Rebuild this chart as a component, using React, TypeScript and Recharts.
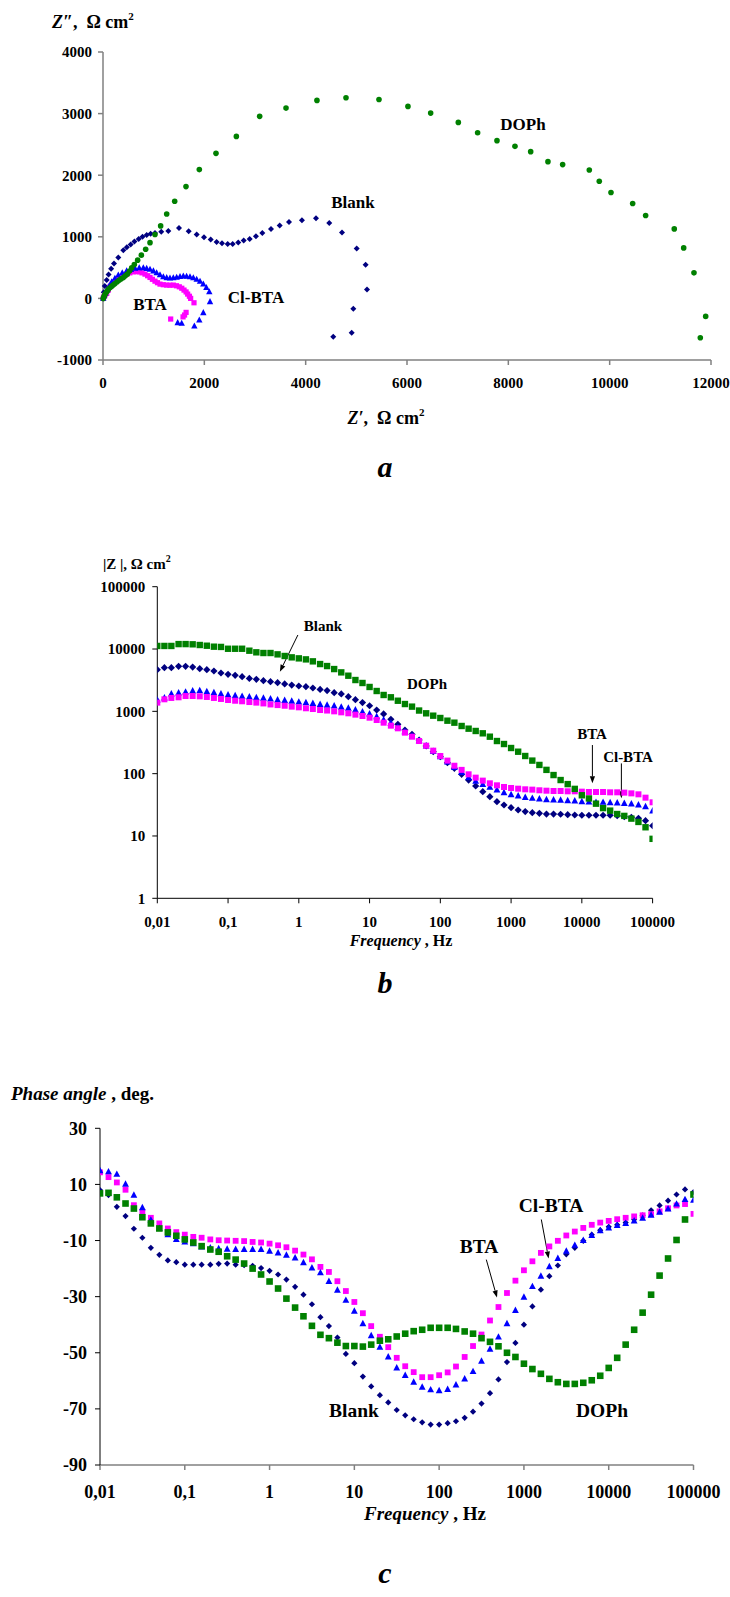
import React from 'react';
import { ScatterChart, Scatter, XAxis, YAxis, ReferenceLine } from 'recharts';

const FONT = "'Times New Roman', 'Liberation Serif', serif";

const NAVY = '#000080';
const MAGENTA = '#FF00FF';
const BLUE = '#0000FF';
const GREEN = '#008000';

// ---- Nyquist plot (Z' vs Z''), Ohm cm2 ----
const blankRe = [5, 15, 35, 73, 110, 160, 217, 302, 401, 470, 547, 620, 704, 780, 862, 940, 1026, 1150, 1289, 1500, 1691, 1849, 1993, 2125, 2243, 2349, 2461, 2560, 2670, 2777, 2895, 3019, 3144, 3316, 3487, 3671, 3927, 4204, 4466, 4717, 5007, 5184, 5210, 4940, 4908, 4545];
const blankIm = [0, 100, 200, 297, 390, 480, 567, 664, 783, 830, 875, 925, 966, 1000, 1031, 1050, 1063, 1080, 1096, 1144, 1091, 1037, 994, 956, 917, 896, 885, 885, 908, 940, 966, 1010, 1063, 1128, 1183, 1242, 1269, 1301, 1225, 1070, 810, 545, 146, -169, -558, -622];

const btaRe = [5, 20, 40, 73, 105, 138, 175, 217, 275, 336, 400, 467, 530, 598, 660, 716, 770, 829, 880, 928, 975, 1026, 1075, 1125, 1190, 1257, 1320, 1388, 1450, 1506, 1555, 1599, 1640, 1671, 1705, 1730, 1796, 1640, 1610, 1580, 1336];
const btaIm = [0, 30, 55, 81, 135, 188, 230, 269, 310, 340, 370, 394, 415, 431, 435, 431, 415, 394, 368, 340, 310, 280, 255, 232, 222, 216, 214, 216, 205, 188, 165, 135, 105, 70, 35, 0, -71, -227, -270, -300, -335];

const clbtaRe = [5, 20, 45, 73, 120, 172, 235, 302, 380, 467, 550, 632, 715, 796, 862, 928, 995, 1059, 1125, 1191, 1257, 1322, 1388, 1454, 1520, 1585, 1650, 1717, 1783, 1849, 1915, 1980, 2040, 2098, 2112, 1980, 1901, 1803, 1553, 1474];
const clbtaIm = [0, 40, 85, 135, 200, 269, 325, 378, 415, 447, 468, 486, 494, 496, 485, 470, 445, 415, 382, 350, 335, 329, 332, 340, 352, 361, 358, 350, 332, 308, 275, 232, 175, 107, -55, -233, -352, -449, -405, -395];

const dophRe = [5, 15, 26, 40, 59, 80, 105, 135, 172, 205, 237, 280, 322, 360, 401, 440, 480, 523, 566, 618, 684, 757, 842, 928, 1026, 1138, 1257, 1415, 1638, 1901, 2230, 2632, 3092, 3612, 4223, 4796, 5447, 6019, 6467, 7013, 7394, 7776, 8131, 8441, 8782, 9072, 9598, 9795, 10026, 10454, 10710, 11275, 11461, 11664, 11895, 11789];
const dophIm = [0, 20, 42, 65, 91, 118, 146, 172, 199, 222, 243, 270, 297, 318, 340, 367, 394, 445, 496, 551, 621, 702, 799, 905, 1037, 1177, 1371, 1577, 1815, 2091, 2355, 2630, 2955, 3089, 3214, 3257, 3230, 3117, 3008, 2857, 2690, 2561, 2468, 2382, 2220, 2172, 2085, 1901, 1718, 1540, 1345, 1128, 820, 415, -292, -638];

const reTicks = [0, 2000, 4000, 6000, 8000, 10000, 12000];
const imTicks = [-1000, 0, 1000, 2000, 3000, 4000];

// ---- Bode plots, shared frequency grid (Hz) ----
const freq = [
  0.01, 0.0126, 0.0158, 0.02, 0.0251, 0.0316, 0.0398, 0.0501, 0.0631, 0.0794,
  0.1, 0.126, 0.158, 0.2, 0.251, 0.316, 0.398, 0.501, 0.631, 0.794,
  1, 1.26, 1.58, 2, 2.51, 3.16, 3.98, 5.01, 6.31, 7.94,
  10, 12.6, 15.8, 20, 25.1, 31.6, 39.8, 50.1, 63.1, 79.4,
  100, 126, 158, 200, 251, 316, 398, 501, 631, 794,
  1000, 1259, 1585, 1995, 2512, 3162, 3981, 5012, 6310, 7943,
  10000, 12589, 15849, 19953, 25119, 31623, 39811, 50119, 63096, 79433,
  100000,
];

// |Z|, Ohm cm2
const blankMod = [
  4660, 5020, 5020, 5270, 5270, 5140, 4830, 4660, 4440, 4120,
  3920, 3780, 3600, 3380, 3260, 3100, 2990, 2880, 2750, 2640,
  2550, 2490, 2370, 2250, 2150, 1990, 1900, 1720, 1540, 1380,
  1230, 1050, 910, 745, 618, 502, 428, 347, 278, 225,
  187, 150, 122, 97.6, 79, 63.4, 51.4, 42.7, 35.5, 31.4,
  28.5, 26.1, 24.6, 23.7, 23.1, 22.5, 22.5, 22.3, 22.0, 21.7,
  21.5, 21.5, 21.5, 21.5, 21.5, 21.2, 20.4, 19.9, 19.2, 17.6,
  14.6,
];
const btaMod = [
  1380, 1560, 1640, 1680, 1760, 1760, 1740, 1700, 1640, 1580,
  1520, 1480, 1450, 1410, 1380, 1340, 1290, 1260, 1230, 1190,
  1160, 1120, 1090, 1050, 1030, 1000, 964, 930, 885, 842,
  791, 726, 658, 589, 534, 455, 392, 334, 281, 234,
  192, 162, 134, 115, 97.6, 86.3, 77.3, 70, 65, 61.1,
  58.9, 57.4, 56.1, 55.4, 54.1, 53.3, 52.7, 52.7, 52.1, 52.1,
  51.4, 50.8, 50.8, 50.8, 50.2, 50.2, 49.6, 48.3, 46.6, 41.2,
  34.7,
];
const clbtaMod = [
  1520, 1640, 1900, 1970, 2040, 2120, 2150, 2070, 1990, 1900,
  1830, 1780, 1740, 1700, 1660, 1620, 1580, 1520, 1500, 1450,
  1410, 1380, 1340, 1290, 1260, 1220, 1170, 1120, 1050, 975,
  906, 821, 726, 646, 553, 472, 402, 338, 278, 228,
  187, 154, 126, 105, 87, 76, 67.4, 60.4, 54.7, 49.6,
  46.0, 43.8, 41.7, 40.2, 39.2, 38.3, 37.8, 37.4, 36.9, 36.4,
  35.5, 35.1, 34.7, 34.7, 34.3, 33.8, 33.4, 32.6, 31.4, 29.6,
  25.2,
];
const dophMod = [
  11200, 11200, 11200, 12000, 12000, 11900, 11600, 11300, 10900, 10800,
  10100, 10100, 10100, 9400, 8850, 8630, 8630, 8210, 7730, 7350,
  7080, 6820, 6340, 5740, 5330, 4770, 4220, 3730, 3180, 2850,
  2460, 2120, 1830, 1680, 1480, 1310, 1190, 1030, 930, 852,
  782, 708, 658, 582, 527, 484, 444, 392, 334, 299,
  258, 225, 192, 162, 138, 115, 95, 79, 68, 57,
  45, 40, 33, 28, 25.5, 22.5, 21, 19, 16.8, 13.8,
  9.0,
];

// phase angle, deg
const blankPhase = [
  8.0, 6.2, 2.0, -1.3, -5.8, -9.0, -12.6, -15.1, -17.1, -17.7,
  -18.6, -18.6, -18.6, -18.6, -18.3, -18.2, -18.6, -18.8, -19.0, -19.8,
  -20.8, -22.1, -23.9, -26.5, -29.3, -32.7, -37.3, -40.5, -44.6, -50.4,
  -53.7, -58.5, -62.0, -65.1, -67.7, -70.4, -72.3, -73.7, -74.8, -75.6,
  -75.6, -75.1, -74.4, -73.2, -71.0, -68.1, -64.4, -59.5, -53.3, -46.5,
  -40.0, -33.5, -27.5, -22.7, -18.9, -14.9, -12.6, -10.1, -7.9, -6.3,
  -5.1, -4.4, -3.6, -2.5, -1.0, 0.8, 2.5, 4.2, 6.4, 8.2,
  7.3,
];
const btaPhase = [
  14.3, 12.6, 10.7, 8.1, 2.6, 0.2, -1.9, -3.9, -5.7, -7.0,
  -7.9, -8.7, -9.0, -9.6, -9.9, -10.0, -10.1, -10.2, -10.5, -10.7,
  -11.1, -11.7, -12.4, -13.6, -15.0, -16.7, -19.4, -21.2, -24.5, -28.0,
  -31.9, -35.9, -40.5, -44.3, -48.0, -51.8, -54.8, -56.9, -58.7, -58.7,
  -58.0, -57.0, -54.9, -51.5, -47.6, -43.5, -38.5, -33.7, -28.7, -24.3,
  -20.6, -17.4, -14.4, -12.1, -10.1, -8.2, -6.8, -5.5, -4.4, -3.6,
  -3.0, -2.4, -1.9, -1.4, -1.0, -0.6, 0.4, 1.5, 2.5, 3.0,
  -0.5,
];
const clbtaPhase = [
  14.9, 14.5, 13.6, 10.1, 6.2, 1.7, -2.7, -5.7, -7.9, -9.6,
  -10.5, -11.1, -12.3, -12.6, -12.9, -13.1, -13.2, -13.2, -13.2, -13.2,
  -13.8, -14.4, -15.2, -16.2, -17.9, -19.8, -21.5, -24.6, -27.7, -31.3,
  -35.2, -39.6, -43.9, -48.0, -51.5, -55.4, -58.1, -60.5, -62.3, -63.2,
  -63.5, -63.1, -61.5, -59.3, -56.7, -53.0, -48.7, -44.4, -39.6, -34.9,
  -30.2, -26.4, -22.7, -19.3, -16.4, -13.8, -11.7, -10.0, -8.2, -6.5,
  -5.5, -4.6, -3.9, -3.0, -2.0, -1.0, 0.1, 1.3, 3.0, 4.6,
  4.4,
];
const dophPhase = [
  6.8, 7.0, 5.4, 3.2, 1.4, -1.7, -3.9, -5.7, -7.1, -8.3,
  -9.6, -10.7, -12.0, -13.2, -14.0, -15.6, -16.8, -18.2, -20.0, -22.1,
  -24.6, -27.1, -30.7, -33.9, -37.0, -40.4, -43.6, -44.8, -46.4, -47.6,
  -47.6, -47.8, -47.1, -45.7, -45.2, -44.2, -43.2, -42.3, -41.8, -41.1,
  -41.1, -41.1, -41.5, -42.4, -43.2, -44.8, -46.1, -47.7, -50.0, -51.5,
  -53.9, -55.8, -57.5, -59.3, -60.5, -61.1, -61.1, -60.7, -59.8, -58.2,
  -55.4, -51.8, -47.1, -41.8, -35.7, -29.3, -22.5, -16.4, -9.8, -2.5,
  6.4,
];

const freqTicks = [0.01, 0.1, 1, 10, 100, 1000, 10000, 100000];
const modTicks = [1, 10, 100, 1000, 10000, 100000];
const phaseTicks = [-90, -70, -50, -30, -10, 10, 30];

const zip = (xs: number[], ys: number[]) => xs.map((x, i) => ({ x, y: ys[i] }));

const fmtFreq = (v: number) => String(v).replace('.', ',');

type Kind = 'diamond' | 'square' | 'triangle' | 'circle';

function marker(kind: Kind, color: string, r: number) {
  return (props: any) => {
    const { cx, cy } = props;
    if (cx == null || cy == null) return <g />;
    if (kind === 'circle') return <circle cx={cx} cy={cy} r={r} fill={color} />;
    if (kind === 'square')
      return <rect x={cx - r} y={cy - r} width={2 * r} height={2 * r} fill={color} />;
    if (kind === 'triangle')
      return (
        <polygon
          points={`${cx},${cy - r * 1.15} ${cx + r},${cy + r * 0.75} ${cx - r},${cy + r * 0.75}`}
          fill={color}
        />
      );
    return (
      <polygon
        points={`${cx},${cy - r} ${cx + r},${cy} ${cx},${cy + r} ${cx - r},${cy}`}
        fill={color}
      />
    );
  };
}

// line with a small filled head at the second point
const arrowShape = (props: any) => {
  const { x1, y1, x2, y2 } = props;
  if ([x1, y1, x2, y2].some((v) => v == null || isNaN(v))) return <g />;
  const ang = Math.atan2(y2 - y1, x2 - x1);
  const len = 7;
  const half = 2.6;
  const bx = x2 - len * Math.cos(ang);
  const by = y2 - len * Math.sin(ang);
  const px = -Math.sin(ang) * half;
  const py = Math.cos(ang) * half;
  return (
    <g>
      <line x1={x1} y1={y1} x2={bx} y2={by} stroke="#000" strokeWidth={1} />
      <polygon points={`${x2},${y2} ${bx + px},${by + py} ${bx - px},${by - py}`} fill="#000" />
    </g>
  );
};

const tickStyle = (size: number) => ({
  fill: '#000',
  fontSize: size,
  fontWeight: 700,
  fontFamily: FONT,
});

function NyquistChart() {
  return (
    <ScatterChart width={730} height={400} margin={{ top: 52, right: 19, bottom: 0, left: 43 }}>
      <XAxis
        type="number"
        dataKey="x"
        domain={[0, 12000]}
        ticks={reTicks}
        interval={0}
        stroke="#808080"
        strokeWidth={1.5}
        tickSize={5}
        tickMargin={12}
        height={40}
        tick={tickStyle(15)}
      />
      <YAxis
        type="number"
        dataKey="y"
        domain={[-1000, 4000]}
        ticks={imTicks}
        interval={0}
        stroke="#808080"
        strokeWidth={1.5}
        tickSize={5}
        tickMargin={6}
        width={60}
        tick={tickStyle(15)}
      />
      <Scatter data={zip(blankRe, blankIm)} shape={marker('diamond', NAVY, 3)} isAnimationActive={false} />
      <Scatter data={zip(btaRe, btaIm)} shape={marker('square', MAGENTA, 2.6)} isAnimationActive={false} />
      <Scatter data={zip(clbtaRe, clbtaIm)} shape={marker('triangle', BLUE, 3.2)} isAnimationActive={false} />
      <Scatter data={zip(dophRe, dophIm)} shape={marker('circle', GREEN, 2.8)} isAnimationActive={false} />
    </ScatterChart>
  );
}

function ModulusChart() {
  return (
    <ScatterChart width={730} height={400} margin={{ top: 46.7, right: 77.4, bottom: 1.7, left: 97.3 }}>
      <XAxis
        type="number"
        dataKey="x"
        scale="log"
        domain={[0.01, 100000]}
        ticks={freqTicks}
        interval={0}
        tickFormatter={fmtFreq}
        stroke="#000"
        tickSize={5}
        tickMargin={13}
        height={40}
        tick={tickStyle(15)}
        allowDataOverflow
      />
      <YAxis
        type="number"
        dataKey="y"
        scale="log"
        domain={[1, 100000]}
        ticks={modTicks}
        interval={0}
        stroke="#000"
        tickSize={5}
        tickMargin={7}
        width={60}
        tick={tickStyle(15)}
        allowDataOverflow
      />
      <Scatter data={zip(freq, blankMod)} shape={marker('diamond', NAVY, 3.6)} isAnimationActive={false} />
      <Scatter data={zip(freq, clbtaMod)} shape={marker('triangle', BLUE, 3.4)} isAnimationActive={false} />
      <Scatter data={zip(freq, btaMod)} shape={marker('square', MAGENTA, 3)} isAnimationActive={false} />
      <Scatter data={zip(freq, dophMod)} shape={marker('square', GREEN, 3.2)} isAnimationActive={false} />
      <ReferenceLine segment={[{ x: 0.97, y: 16790 }, { x: 0.54, y: 4320 }]} shape={arrowShape} ifOverflow="visible" />
      <ReferenceLine segment={[{ x: 14100, y: 288 }, { x: 14100, y: 69.9 }]} shape={arrowShape} ifOverflow="visible" />
      <ReferenceLine segment={[{ x: 36200, y: 146 }, { x: 36200, y: 40.2 }]} shape={arrowShape} ifOverflow="visible" />
    </ScatterChart>
  );
}

function PhaseChart() {
  return (
    <ScatterChart width={730} height={420} margin={{ top: 28.3, right: 36.5, bottom: 15, left: 40 }}>
      <XAxis
        type="number"
        dataKey="x"
        scale="log"
        domain={[0.01, 100000]}
        ticks={freqTicks}
        interval={0}
        tickFormatter={fmtFreq}
        stroke="#808080"
        strokeWidth={1.5}
        tickSize={5}
        tickMargin={15}
        height={40}
        tick={tickStyle(18)}
        allowDataOverflow
      />
      <YAxis
        type="number"
        dataKey="y"
        domain={[-90, 30]}
        ticks={phaseTicks}
        interval={0}
        stroke="#000"
        tickSize={5}
        tickMargin={8}
        width={60}
        tick={tickStyle(18)}
      />
      <Scatter data={zip(freq, blankPhase)} shape={marker('diamond', NAVY, 3.1)} isAnimationActive={false} />
      <Scatter data={zip(freq, btaPhase)} shape={marker('square', MAGENTA, 2.9)} isAnimationActive={false} />
      <Scatter data={zip(freq, clbtaPhase)} shape={marker('triangle', BLUE, 3.4)} isAnimationActive={false} />
      <Scatter data={zip(freq, dophPhase)} shape={marker('square', GREEN, 3.3)} isAnimationActive={false} />
      <ReferenceLine segment={[{ x: 360, y: -16.8 }, { x: 481, y: -30.3 }]} shape={arrowShape} ifOverflow="visible" />
      <ReferenceLine segment={[{ x: 1603, y: -2.5 }, { x: 1954, y: -16.4 }]} shape={arrowShape} ifOverflow="visible" />
    </ScatterChart>
  );
}

const T = (p: { x: number; y: number; size: number; anchor?: string; italic?: boolean; children: React.ReactNode }) => (
  <text
    x={p.x}
    y={p.y}
    fontSize={p.size}
    fontWeight={700}
    fontStyle={p.italic ? 'italic' : 'normal'}
    fontFamily={FONT}
    textAnchor={(p.anchor as any) || 'middle'}
    fill="#000"
  >
    {p.children}
  </text>
);

function Annotations() {
  return (
    <svg
      width={730}
      height={1597}
      style={{ position: 'absolute', left: 0, top: 0, pointerEvents: 'none' }}
    >
      {/* Nyquist */}
      <T x={52} y={28} size={18} anchor="start">
        <tspan fontStyle="italic">Z″</tspan>,{'\u00a0 '}Ω cm<tspan dy={-8} fontSize={11}>2</tspan>
      </T>
      <T x={386} y={424} size={18}>
        <tspan fontStyle="italic">Z′</tspan>,{'\u00a0 '}Ω cm<tspan dy={-8} fontSize={11}>2</tspan>
      </T>
      <T x={385} y={477} size={30} italic>a</T>
      <T x={353} y={208} size={17}>Blank</T>
      <T x={523} y={130} size={17}>DOPh</T>
      <T x={150} y={310} size={17}>BTA</T>
      <T x={256} y={303} size={17}>Cl-BTA</T>

      {/* modulus */}
      <T x={103} y={569} size={15} anchor="start">
        |Z |, Ω cm<tspan dy={-7} fontSize={10}>2</tspan>
      </T>
      <T x={401} y={946} size={16}>
        <tspan fontStyle="italic">Frequency</tspan> , Hz
      </T>
      <T x={385} y={993} size={30} italic>b</T>
      <T x={323} y={631} size={15}>Blank</T>
      <T x={427} y={689} size={15}>DOPh</T>
      <T x={592} y={739} size={15}>BTA</T>
      <T x={628} y={762} size={15}>Cl-BTA</T>

      {/* phase */}
      <T x={11} y={1100} size={19} anchor="start">
        <tspan fontStyle="italic">Phase angle</tspan> , deg.
      </T>
      <T x={425} y={1520} size={19}>
        <tspan fontStyle="italic">Frequency</tspan> , Hz
      </T>
      <T x={385} y={1583} size={30} italic>c</T>
      <T x={354} y={1417} size={19.5}>Blank</T>
      <T x={602} y={1417} size={19.5}>DOPh</T>
      <T x={479} y={1253} size={19.5}>BTA</T>
      <T x={551} y={1212} size={19.5}>Cl-BTA</T>
    </svg>
  );
}

export default function App() {
  return (
    <div style={{ position: 'absolute', left: 0, top: 0, width: 730, height: 1597, background: '#fff' }}>
      <div style={{ position: 'absolute', left: 0, top: 0 }}>
        <NyquistChart />
      </div>
      <div style={{ position: 'absolute', left: 0, top: 540 }}>
        <ModulusChart />
      </div>
      <div style={{ position: 'absolute', left: 0, top: 1100 }}>
        <PhaseChart />
      </div>
      <Annotations />
    </div>
  );
}
